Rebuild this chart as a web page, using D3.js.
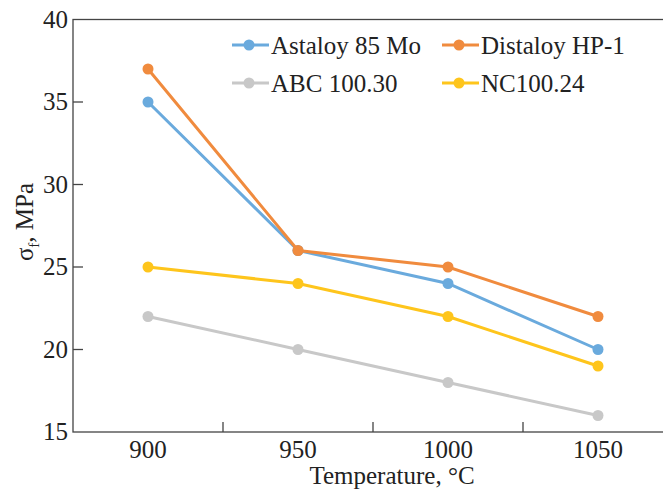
<!DOCTYPE html>
<html>
<head>
<meta charset="utf-8">
<script src="https://cdn.jsdelivr.net/npm/d3@7"></script>
<style>
  body { margin: 0; background: #fff; }
  svg { display: block; font-family: "Liberation Serif", "DejaVu Serif", serif; }
</style>
</head>
<body>
<svg id="chart" width="663" height="493"></svg>
<script>
// data
const temperatures = ['900', '950', '1000', '1050'];
const astaloy = [35, 26, 24, 20];
const distaloy = [37, 26, 25, 22];
const abc = [22, 20, 18, 16];
const nc = [25, 24, 22, 19];
const yTicks = [15, 20, 25, 30, 35, 40];

const series = [
  { name: 'Astaloy 85 Mo', values: astaloy, color: '#6aaadd' },
  { name: 'Distaloy HP-1', values: distaloy, color: '#f08b3e' },
  { name: 'ABC 100.30', values: abc, color: '#c8c8c8' },
  { name: 'NC100.24', values: nc, color: '#fec51c' }
];
// draw order: grey first, then yellow, blue, orange on top
const drawOrder = [2, 3, 0, 1];

const svg = d3.select('#chart');
const mLeft = 73, mRight = 673, mTop = 19.5, mBottom = 432;
const fontSize = 25;

const x = d3.scaleBand().domain(temperatures).range([mLeft, mRight]);
const y = d3.scaleLinear().domain([15, 40]).range([mBottom, mTop]);

// frame (right side runs off the picture)
svg.append('rect')
  .attr('x', mLeft).attr('y', mTop)
  .attr('width', mRight - mLeft).attr('height', mBottom - mTop)
  .attr('fill', 'none').attr('stroke', '#444').attr('stroke-width', 1.3);

// y axis
const yAxis = svg.append('g').attr('transform', `translate(${mLeft},0)`)
  .call(d3.axisLeft(y).tickValues(yTicks).tickSize(0).tickPadding(5));
yAxis.attr('font-family', null).attr('font-size', null);
yAxis.select('.domain').remove();
yAxis.selectAll('text').attr('font-size', fontSize).attr('fill', '#222')
  .attr('dy', '0.3em');
// inward ticks
svg.append('g').selectAll('line').data(yTicks.slice(1, -1)).join('line')
  .attr('x1', mLeft).attr('x2', mLeft + 10)
  .attr('y1', d => y(d)).attr('y2', d => y(d))
  .attr('stroke', '#444').attr('stroke-width', 1.3);

// x axis labels
svg.append('g').selectAll('text').data(temperatures).join('text')
  .attr('x', d => x(d) + x.bandwidth() / 2)
  .attr('y', 458)
  .attr('text-anchor', 'middle')
  .attr('font-size', fontSize).attr('fill', '#222')
  .text(d => d);
// tick marks between categories
svg.append('g').selectAll('line').data(temperatures.slice(1)).join('line')
  .attr('x1', d => x(d)).attr('x2', d => x(d))
  .attr('y1', mBottom).attr('y2', mBottom - 10)
  .attr('stroke', '#444').attr('stroke-width', 1.3);

// axis titles
svg.append('text')
  .attr('x', 392).attr('y', 484)
  .attr('text-anchor', 'middle')
  .attr('font-size', fontSize).attr('fill', '#222')
  .text('Temperature, °C');

const yt = svg.append('text')
  .attr('transform', 'translate(33,222) rotate(-90)')
  .attr('text-anchor', 'middle')
  .attr('font-size', fontSize).attr('fill', '#222');
yt.append('tspan').text('σ');
yt.append('tspan').attr('font-size', 15).attr('dy', 6).text('f');
yt.append('tspan').attr('dy', -6).text(', MPa');

// lines and markers
const line = d3.line()
  .x((d, i) => x(temperatures[i]) + x.bandwidth() / 2)
  .y(d => y(d));

drawOrder.forEach(k => {
  const s = series[k];
  const g = svg.append('g');
  g.append('path')
    .attr('d', line(s.values))
    .attr('fill', 'none')
    .attr('stroke', s.color)
    .attr('stroke-width', 3);
  g.selectAll('circle').data(s.values).join('circle')
    .attr('cx', (d, i) => x(temperatures[i]) + x.bandwidth() / 2)
    .attr('cy', d => y(d))
    .attr('r', 5.5)
    .attr('fill', s.color);
});

// legend
const legendPos = [
  { x: 232, y: 45 }, { x: 442, y: 45 },
  { x: 232, y: 83 }, { x: 442, y: 83 }
];
series.forEach((s, i) => {
  const p = legendPos[i];
  const g = svg.append('g').attr('transform', `translate(${p.x},${p.y})`);
  g.append('line').attr('x1', 0).attr('x2', 37).attr('y1', 0).attr('y2', 0)
    .attr('stroke', s.color).attr('stroke-width', 3);
  g.append('circle').attr('cx', 17).attr('cy', 0).attr('r', 5.5).attr('fill', s.color);
  g.append('text').attr('x', 39).attr('y', 8.5)
    .attr('font-size', fontSize).attr('fill', '#222')
    .text(s.name);
});
</script>
</body>
</html>
